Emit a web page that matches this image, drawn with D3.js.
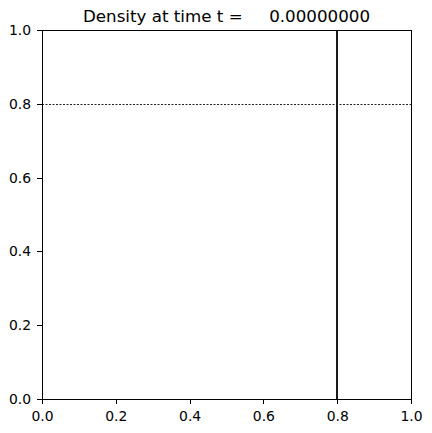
<!DOCTYPE html>
<html>
<head>
<meta charset="utf-8">
<script src="https://cdn.jsdelivr.net/npm/d3@7"></script>
<style>
  body { margin: 0; background: #fff; }
  svg { font-family: "DejaVu Sans", sans-serif; }
</style>
</head>
<body>
<svg id="chart"></svg>
<script>
// front positions (the density jump) at t = 0
var vLines = [0.8];
var hLines = [0.8];
var xTicks = [0, 0.2, 0.4, 0.6, 0.8, 1.0];
var yTicks = [0, 0.2, 0.4, 0.6, 0.8, 1.0];
var titleText = "Density at time t =     0.00000000";

var width = 432, height = 433;
var margin = { top: 30, right: 21, bottom: 34, left: 42 };

var svg = d3.select("#chart")
    .attr("width", width)
    .attr("height", height);

var x = d3.scaleLinear().domain([0, 1]).range([margin.left, width - margin.right]);
var y = d3.scaleLinear().domain([0, 1]).range([height - margin.bottom, margin.top]);

// horizontal front, drawn as a thin broken line
svg.append("g")
    .selectAll("line")
    .data(hLines)
    .join("line")
    .attr("x1", x(0))
    .attr("x2", x(1))
    .attr("y1", d => Math.round(y(d)) + 0.5)
    .attr("y2", d => Math.round(y(d)) + 0.5)
    .attr("stroke", "#222")
    .attr("stroke-width", 1)
    .attr("stroke-dasharray", "2,1.5");

// vertical front
svg.append("g")
    .selectAll("line")
    .data(vLines)
    .join("line")
    .attr("x1", d => Math.round(x(d)))
    .attr("x2", d => Math.round(x(d)))
    .attr("y1", y(0))
    .attr("y2", y(1))
    .attr("stroke", "#1a1a1a")
    .attr("stroke-width", 2);

var xAxis = g => g
    .attr("transform", `translate(0,${y(0)})`)
    .call(d3.axisBottom(x).tickValues(xTicks).tickFormat(d3.format(".1f")).tickSize(5).tickPadding(7))
    .call(g => g.select(".domain").remove());

var yAxis = g => g
    .attr("transform", `translate(${x(0)},0)`)
    .call(d3.axisLeft(y).tickValues(yTicks).tickFormat(d3.format(".1f")).tickSize(5).tickPadding(6))
    .call(g => g.select(".domain").remove());

svg.append("g").call(xAxis);
svg.append("g").call(yAxis);

svg.selectAll(".tick text")
    .attr("font-size", 13.9)
    .attr("font-family", "DejaVu Sans")
    .attr("fill", "#000");
svg.selectAll(".tick line")
    .attr("stroke", "#000")
    .attr("stroke-width", 1)
    .attr("shape-rendering", "crispEdges");

// frame
svg.append("rect")
    .attr("x", x(0))
    .attr("y", y(1))
    .attr("width", x(1) - x(0))
    .attr("height", y(0) - y(1))
    .attr("fill", "none")
    .attr("stroke", "#000")
    .attr("stroke-width", 1)
    .attr("shape-rendering", "crispEdges");

svg.append("text")
    .attr("x", (x(0) + x(1)) / 2)
    .attr("y", 22)
    .attr("text-anchor", "middle")
    .attr("font-size", 16.7)
    .attr("fill", "#000")
    .style("white-space", "pre")
    .text(titleText);
</script>
</body>
</html>
